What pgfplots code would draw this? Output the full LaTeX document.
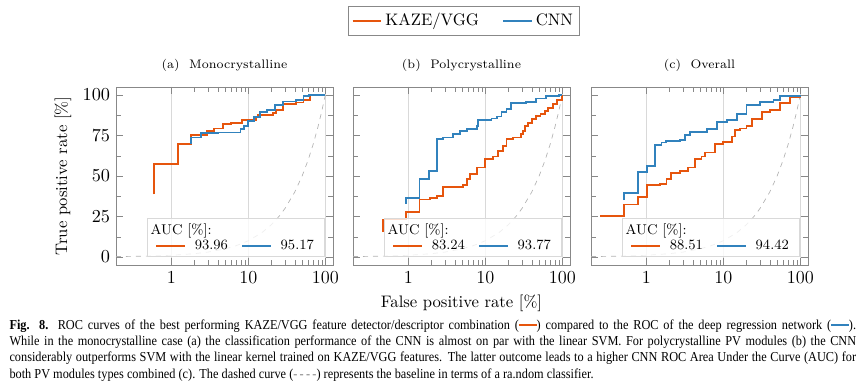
\documentclass[border=0pt]{standalone}
\usepackage{fontspec}
\usepackage{pgfplots}
\pgfplotsset{compat=1.18}
\newfontfamily\capfont[FakeStretch=0.9]{Liberation Serif}
\definecolor{kaze}{HTML}{E6550D}
\definecolor{cnn}{HTML}{3182BD}
\definecolor{axgray}{HTML}{888888}

\pgfplotsset{rocax/.style={
  xmin=0.19, xmax=126, ymin=-5, ymax=105,
  width=130.2pt, height=106.8pt, scale only axis, anchor=north west,
  xtick={1,10,100}, xticklabels={1,10,100},
  ytick={0,25,50,75,100}, minor ytick={12.5,37.5,62.5,87.5},
  xmajorgrids, major grid style={gray!30, line width=0.4pt},
  axis line style={axgray}, tick style={axgray},
  tick label style={font=\fontsize{11}{13}\selectfont},
  title style={font=\fontsize{7.4}{9}\selectfont, yshift=0pt},
  legend columns=2,
  legend style={at={(0.145,0.045)}, anchor=south west, draw=gray!30, fill=white, fill opacity=0.8, text opacity=1, font=\fontsize{8.5}{10}\selectfont, inner xsep=4.5pt, inner ysep=1.8pt, nodes={inner ysep=1pt}, /tikz/every odd column/.append style={column sep=3.5pt}, /tikz/every even column/.append style={column sep=6pt}},
  legend cell align=left,
}}

\begin{document}
\begin{tikzpicture}
% global legend (hidden axis spanning the picture)
\begin{axis}[at={(0pt,0pt)}, anchor=north west, hide axis, scale only axis, width=520.2pt, height=231.6pt,
  xmin=0, xmax=1, ymin=0, ymax=1,
  legend columns=2,
  legend style={at={(0.5352,0.9456)}, anchor=center, draw=axgray, font=\fontsize{10}{12}\selectfont, inner sep=2pt, /tikz/every even column/.append style={column sep=12pt}}]
\addlegendimage{kaze, line width=1.1pt}\addlegendentry{KAZE/VGG}
\addlegendimage{cnn, line width=1.1pt}\addlegendentry{CNN}
\end{axis}

% (a)
\begin{semilogxaxis}[rocax, at={(69.6pt,-52.2pt)}, title={(a)\ \ Monocrystalline},
  ylabel={True positive rate [\%]}, ylabel style={font=\fontsize{10}{12}\selectfont}]
\addplot[gray!60, dashed, line width=0.4pt, forget plot] coordinates {(0.19,0.19)(0.5,0.5)(1,1)(2,2)(3,3)(5,5)(7,7)(10,10)(15,15)(20,20)(25,25)(30,30)(40,40)(50,50)(60,60)(70,70)(80,80)(90,90)(100,100)};
\addlegendimage{empty legend}\addlegendentry{\hspace{-26.5pt}AUC [\%]:}
\addlegendimage{empty legend}\addlegendentry{}
\addplot[kaze, line width=1.1pt, const plot] coordinates {(0.6,38.6)(0.6,57.2)(1.22,70)(1.78,75.4)(2.9,77.9)(3.6,79.3)(4.7,82)(6,83)(8.2,84.7)(12.5,86.5)(13.5,87.6)(21,89)(23,91)(28,94.4)(42,95.4)(52,97)(63,100)(100,100)};
\addlegendentry{93.96}
\addplot[cnn, line width=1.1pt, const plot] coordinates {(1.78,69.6)(1.78,73.8)(2.4,76.4)(4,76.9)(7.9,78.9)(8.7,81)(10,84)(11.7,86.2)(14.3,89.7)(17.4,91)(22,93.8)(28,96)(42,97.1)(52,99.2)(62,100)(100,100)};
\addlegendentry{95.17}
\end{semilogxaxis}

% (b)
\begin{semilogxaxis}[rocax, at={(211.8pt,-52.2pt)}, title={(b)\ \ Polycrystalline}, yticklabels={},
  xlabel={False positive rate [\%]}, xlabel style={font=\fontsize{10}{12}\selectfont}]
\addplot[gray!60, dashed, line width=0.4pt, forget plot] coordinates {(0.19,0.19)(0.5,0.5)(1,1)(2,2)(3,3)(5,5)(7,7)(10,10)(15,15)(20,20)(25,25)(30,30)(40,40)(50,50)(60,60)(70,70)(80,80)(90,90)(100,100)};
\addlegendimage{empty legend}\addlegendentry{\hspace{-26.5pt}AUC [\%]:}
\addlegendimage{empty legend}\addlegendentry{}
\addplot[kaze, line width=1.1pt, const plot] coordinates {(0.465,15.3)(0.465,23.1)(0.93,27.7)(1.39,35.5)(1.91,36.6)(2.33,37.6)(2.78,43.4)(5.16,44.2)(5.7,48.3)(6.3,51)(7.7,55.2)(9.9,60.7)(12.6,62)(14.7,65.5)(17,68.6)(18.8,72.7)(22.9,73.8)(29.3,75.8)(30.8,78)(33,81)(36,83)(40,85.1)(46,87)(52,88.2)(59,90.3)(66,92)(75,94.4)(85,97)(100,100)};
\addlegendentry{83.24}
\addplot[cnn, line width=1.1pt, const plot] coordinates {(0.93,33)(0.93,36.2)(1.39,48.3)(1.87,53.1)(2.33,72.7)(2.84,73.8)(3.83,75.8)(4.67,77.9)(5.7,78.9)(7.7,81)(8.1,84.7)(12,85.5)(14,86.8)(16.2,89.3)(18.8,91.3)(21.8,95)(34,95.9)(46,97.9)(62,99.2)(90,100)(100,100)};
\addlegendentry{93.77}
\end{semilogxaxis}

% (c)
\begin{semilogxaxis}[rocax, at={(354.6pt,-52.2pt)}, title={(c)\ \ Overall}, yticklabels={}]
\addplot[gray!60, dashed, line width=0.4pt, forget plot] coordinates {(0.19,0.19)(0.5,0.5)(1,1)(2,2)(3,3)(5,5)(7,7)(10,10)(15,15)(20,20)(25,25)(30,30)(40,40)(50,50)(60,60)(70,70)(80,80)(90,90)(100,100)};
\addlegendimage{empty legend}\addlegendentry{\hspace{-26.5pt}AUC [\%]:}
\addlegendimage{empty legend}\addlegendentry{}
\addplot[kaze, line width=1.1pt, const plot] coordinates {(0.25,25.2)(0.506,32.4)(0.78,37.2)(1.02,44.2)(1.49,45.2)(1.82,48.3)(2.06,51.7)(2.72,53.1)(3.49,55.2)(4.27,60.3)(5.2,62)(5.76,64.5)(7.8,69.6)(10,71)(12.8,74.4)(14.2,78.5)(16.5,79.3)(20,81)(23.4,85.1)(31.6,89.3)(40,91)(55,95)(74,98.5)(100,100)};
\addlegendentry{88.51}
\addplot[cnn, line width=1.1pt, const plot] coordinates {(0.506,35.1)(0.506,39.3)(0.78,52.5)(1.02,56.2)(1.28,69)(1.57,70.7)(1.79,71.7)(2.72,72.3)(3.16,75.2)(3.67,77.3)(6.06,78.9)(8.2,83.5)(11.1,84.7)(14.9,88.2)(20,93.8)(29.8,95.5)(44.8,97.1)(55,99.6)(100,100)};
\addlegendentry{94.42}
\end{semilogxaxis}

% caption
\node[anchor=north west, inner sep=0pt, text width=508pt, align=justify,
      font=\capfont\fontsize{8.2}{9.7}\selectfont] at (5.5pt,-191.8pt) {%
{\bfseries Fig. 8.} ROC curves of the best performing KAZE/VGG feature detector/descriptor combination ({\color{kaze}\rule[0.55ex]{1.3em}{1.1pt}}) compared to the ROC of the deep regression network ({\color{cnn}\rule[0.55ex]{1.3em}{1.1pt}}).\linebreak
While in the monocrystalline case (a) the classification performance of the CNN is almost on par with the linear SVM. For polycrystalline PV modules (b) the CNN\linebreak
considerably outperforms SVM with the linear kernel trained on KAZE/VGG features. The latter outcome leads to a higher CNN ROC Area Under the Curve (AUC) for\linebreak
both PV modules types combined (c). The dashed curve ({\color{gray}-\,-\,-\,-}) represents the baseline in terms of a ra.ndom classifier.\par};

\pgfresetboundingbox
\path (0pt,0pt) rectangle (520.2pt,-231.6pt);
\end{tikzpicture}
\end{document}
